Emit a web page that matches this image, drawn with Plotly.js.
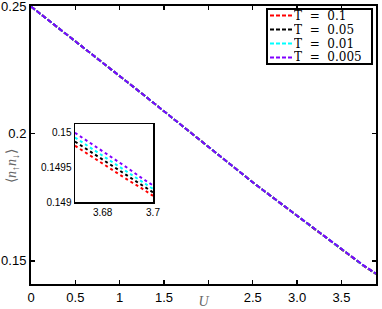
<!DOCTYPE html>
<html>
<head>
<meta charset="utf-8">
<script src="https://cdn.plot.ly/plotly-3.0.1.min.js"></script>
<style>html,body{margin:0;padding:0;background:#fff;}#chart{width:382px;height:309px;}</style>
</head>
<body>
<div id="chart"></div>
<script>
// ---- data ----
var seriesNames = ['T = 0.1', 'T = 0.05', 'T = 0.01', 'T = 0.005'];
var seriesColors = ['#ff0000', '#000000', '#00ffff', '#8000ff'];

var uMain = [0, 0.25, 0.5, 0.75, 1.0, 1.25, 1.5, 1.75, 2.0, 2.25, 2.5, 2.75, 3.0, 3.25, 3.5, 3.75, 3.89];
var nMain_T0_1   = [0.2500, 0.2432, 0.2363, 0.2295, 0.2226, 0.2158, 0.2088, 0.2018, 0.1949, 0.1879, 0.1809, 0.1743, 0.1677, 0.1612, 0.15455, 0.14805, 0.14485];
var nMain_T0_05  = [0.2500, 0.2432, 0.2363, 0.2295, 0.2226, 0.2158, 0.2088, 0.2018, 0.1949, 0.1879, 0.1809, 0.1743, 0.1677, 0.1612, 0.15460, 0.14810, 0.14490];
var nMain_T0_01  = [0.2500, 0.2432, 0.2363, 0.2295, 0.2226, 0.2158, 0.2088, 0.2018, 0.1949, 0.1879, 0.1809, 0.1743, 0.1677, 0.1612, 0.15465, 0.14815, 0.14495];
var nMain_T0_005 = [0.2500, 0.2432, 0.2363, 0.2295, 0.2226, 0.2158, 0.2088, 0.2018, 0.1949, 0.1879, 0.1809, 0.1743, 0.1677, 0.1612, 0.15470, 0.14820, 0.14500];

var uInset = [3.665, 3.67, 3.675, 3.68, 3.685, 3.69, 3.695, 3.7];
var nInset_T0_1   = [0.14991, 0.14979, 0.14967, 0.14956, 0.14944, 0.14932, 0.14921, 0.14909];
var nInset_T0_05  = [0.14997, 0.14985, 0.14973, 0.14961, 0.14949, 0.14938, 0.14926, 0.14914];
var nInset_T0_01  = [0.15003, 0.14991, 0.14979, 0.14967, 0.14955, 0.14943, 0.14931, 0.14919];
var nInset_T0_005 = [0.15010, 0.14998, 0.14985, 0.14973, 0.14961, 0.14949, 0.14936, 0.14924];

var xTickVals = [0, 0.5, 1, 1.5, 2.5, 3, 3.5];
var xTickText = ['0', '0.5', '1', '1.5', '2.5', '3.0', '3.5'];
var xUnlabeledTickVals = [2];
var yTickVals = [0.15, 0.2, 0.25];
var yTickText = ['0.15', '0.2', '0.25'];
var xInsetTickVals = [3.68, 3.7];
var xInsetTickText = ['3.68', '3.7'];
var yInsetTickVals = [0.149, 0.1495, 0.15];
var yInsetTickText = ['0.149', '0.1495', '0.15'];

// ---- traces ----
var mainY = [nMain_T0_1, nMain_T0_05, nMain_T0_01, nMain_T0_005];
var insetY = [nInset_T0_1, nInset_T0_05, nInset_T0_01, nInset_T0_005];
var traces = [];
for (var i = 0; i < seriesNames.length; i++) {
  traces.push({
    x: uMain, y: mainY[i], type: 'scatter', mode: 'lines', name: seriesNames[i],
    line: {color: seriesColors[i], width: 2, dash: '5px,2px'},
    xaxis: 'x', yaxis: 'y', showlegend: false, hoverinfo: 'skip'
  });
}
for (var j = 0; j < seriesNames.length; j++) {
  traces.push({
    x: uInset, y: insetY[j], type: 'scatter', mode: 'lines', name: seriesNames[j],
    line: {color: seriesColors[j], width: 2, dash: '3px,3px'},
    xaxis: 'x2', yaxis: 'y2', showlegend: false, hoverinfo: 'skip'
  });
}

// ---- manual legend (box + samples + labels) ----
function px2x(p) { return (p - 31) / 345; }
function px2y(p) { return (284 - p) / 278; }
var shapes = [{
  type: 'rect', xref: 'paper', yref: 'paper',
  x0: px2x(267), x1: px2x(372), y0: px2y(64), y1: px2y(9),
  line: {color: '#000', width: 2}, fillcolor: '#fff', layer: 'above'
}];
var annotations = [];
var rowY = [15.5, 29.5, 43.5, 57.5];
for (var k = 0; k < seriesNames.length; k++) {
  shapes.push({
    type: 'line', xref: 'paper', yref: 'paper',
    x0: px2x(270), x1: px2x(293), y0: px2y(rowY[k]), y1: px2y(rowY[k]),
    line: {color: seriesColors[k], width: 2, dash: '4px,2px'}, layer: 'above'
  });
  annotations.push({
    xref: 'paper', yref: 'paper', x: px2x(293), y: px2y(rowY[k]),
    xanchor: 'left', yanchor: 'middle', showarrow: false,
    height: 12, valign: 'middle', borderpad: 0,
    text: seriesNames[k].replace(/ /g, '\u00a0\u00a0'),
    font: {family: 'DejaVu Serif, serif', size: 12, color: '#000'}
  });
}
annotations.push({
  xref: 'paper', yref: 'paper', x: px2x(12), y: px2y(166),
  xanchor: 'center', yanchor: 'middle', showarrow: false, textangle: -90,
  text: '\u27e8<i>n</i><sub>\u2191</sub><i>n</i><sub>\u2193</sub>\u27e9',
  font: {family: 'Liberation Serif, serif', size: 14, color: '#666'}
});

var layout = {
  width: 382, height: 309,
  margin: {l: 31, r: 6, t: 6, b: 25, pad: 0},
  paper_bgcolor: '#fff', plot_bgcolor: '#fff',
  showlegend: false,
  xaxis: {
    domain: [0, 1], range: [0, 3.89], tickvals: xTickVals, ticktext: xTickText,
    ticks: 'inside', ticklen: 4, tickwidth: 1.5, tickcolor: '#000',
    minor: {tickvals: xUnlabeledTickVals, ticks: 'inside', ticklen: 4, tickwidth: 1.5, tickcolor: '#000', showgrid: false},
    showline: true, linecolor: '#000', linewidth: 2, mirror: 'allticks',
    showgrid: false, zeroline: false,
    tickfont: {family: 'Liberation Sans, Arial, sans-serif', size: 13, color: '#000'},
    title: {text: '<i>U</i>', standoff: 0, font: {family: 'Liberation Serif, serif', size: 14, color: '#666'}}
  },
  yaxis: {
    domain: [0, 1], range: [0.1409, 0.2502], tickvals: yTickVals, ticktext: yTickText,
    ticks: 'inside', ticklen: 4, tickwidth: 1.5, tickcolor: '#000',
    ticklabeloverflow: 'allow',
    showline: true, linecolor: '#000', linewidth: 2, mirror: 'allticks',
    showgrid: false, zeroline: false,
    tickfont: {family: 'Liberation Sans, Arial, sans-serif', size: 13, color: '#000'}
  },
  xaxis2: {
    domain: [px2x(75), px2x(153)], anchor: 'y2', range: [3.669, 3.7],
    tickvals: xInsetTickVals, ticktext: xInsetTickText, ticks: '',
    showline: true, linecolor: '#000', linewidth: 1.5, mirror: true,
    showgrid: false, zeroline: false,
    tickfont: {family: 'Liberation Sans, Arial, sans-serif', size: 10, color: '#000'}
  },
  yaxis2: {
    domain: [px2y(202), px2y(124)], anchor: 'x2', range: [0.149, 0.15013],
    tickvals: yInsetTickVals, ticktext: yInsetTickText, ticks: '',
    showline: true, linecolor: '#000', linewidth: 1.5, mirror: true,
    showgrid: false, zeroline: false,
    tickfont: {family: 'Liberation Sans, Arial, sans-serif', size: 10, color: '#000'}
  },
  shapes: shapes,
  annotations: annotations
};

Plotly.newPlot('chart', traces, layout, {displayModeBar: false, staticPlot: true});
</script>
</body>
</html>
